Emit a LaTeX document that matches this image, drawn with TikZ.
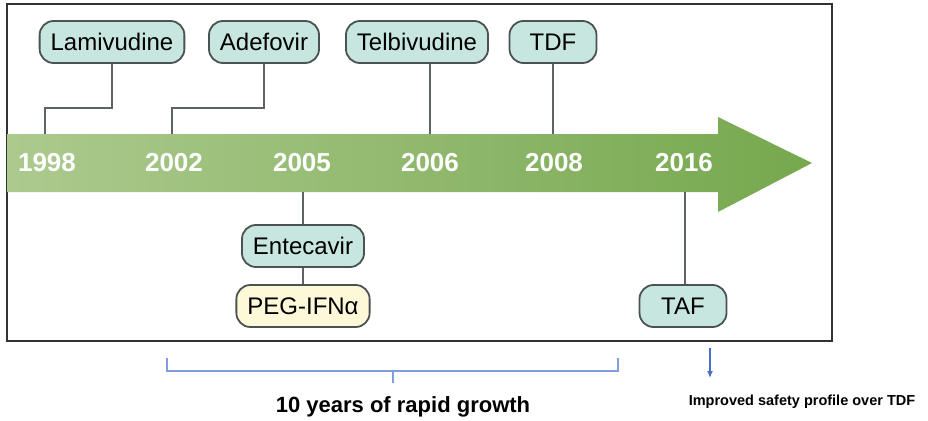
\documentclass[tikz,border=0pt]{standalone}
\usepackage{fontspec}
\setmainfont{Liberation Sans}
\usetikzlibrary{calc,arrows.meta}
\definecolor{drugfill}{RGB}{200,230,224}
\definecolor{pegfill}{RGB}{252,248,216}
\definecolor{edge}{RGB}{75,82,82}
\definecolor{bandlight}{RGB}{172,202,142}
\definecolor{banddark}{RGB}{118,168,78}
\definecolor{bracketblue}{RGB}{128,158,222}
\definecolor{arrowblue}{RGB}{70,112,200}
\tikzset{
  drug/.style={draw=edge,line width=1.8pt,fill=drugfill,rounded corners=14pt,
    minimum height=42pt,inner xsep=11pt,font=\fontsize{24}{26}\selectfont},
  link/.style={draw=edge!90,line width=2pt},
  year/.style={text=white,font=\fontsize{26}{28}\selectfont\bfseries}
}
\begin{document}
\begin{tikzpicture}[x=1pt,y=-1pt]
\useasboundingbox (0,0) rectangle (928,420);
\draw[line width=2pt,draw=black!80] (7,4) rectangle (832,341);
% arrow band
\shade[left color=bandlight,right color=banddark]
  (7,134) -- (718,134) -- (718,117) -- (812,163) -- (718,212) -- (718,192) -- (7,192) -- cycle;
\node (y1998) at (47,163) [year]{1998};
\node (y2002) at (174,163) [year]{2002};
\node (y2005) at (302,163) [year]{2005};
\node (y2006) at (430,163) [year]{2006};
\node (y2008) at (554,163) [year]{2008};
\node (y2016) at (684,163) [year]{2016};
\coordinate (t1998) at (45,134);
\coordinate (t2002) at (172,134);
\coordinate (t2006) at (430,134);
\coordinate (t2008) at (553,134);
\coordinate (b2005) at (303,192);
\coordinate (b2016) at (685,192);

\node (lam) at (112,42) [drug]{Lamivudine};
\node (ade) at (264,42) [drug]{Adefovir};
\node (tel) at (417,42) [drug]{Telbivudine};
\node (tdf) at (553,42) [drug,minimum width=87pt]{TDF};
\node (ent) at (303,246) [drug]{Entecavir};
\node (peg) at (303,306) [drug,fill=pegfill]{PEG-IFNα};
\node (taf) at (683,306) [drug,minimum width=87pt]{TAF};

\draw[link] (lam.south) -- ++(0,44) -| (t1998);
\draw[link] (ade.south) -- ++(0,44) -| (t2002);
\draw[link] (tel.south -| t2006) -- (t2006);
\draw[link] (tdf.south) -- (t2008);
\draw[link] (b2005) -- (ent.north);
\draw[link] (ent) -- (peg);
\draw[link] (b2016) -- (taf.north -| b2016);

% bracket and notes
\draw[bracketblue,line width=1.5pt] (167,358) |- (618,371) -- (618,358);
\draw[bracketblue,line width=1.5pt] (393,371) -- (393,383);
\node (growth) at (403,407) [font=\fontsize{22}{24}\selectfont\bfseries]{10 years of rapid growth};
\node (safety) at (802,402) [font=\fontsize{14.5}{16}\selectfont\bfseries]{Improved safety profile over TDF};
\coordinate (taftip) at (710,378);
\draw[-{Latex[length=7pt,width=6pt]},arrowblue,line width=1.2pt] (710,348) -- (taftip);
\end{tikzpicture}
\end{document}
